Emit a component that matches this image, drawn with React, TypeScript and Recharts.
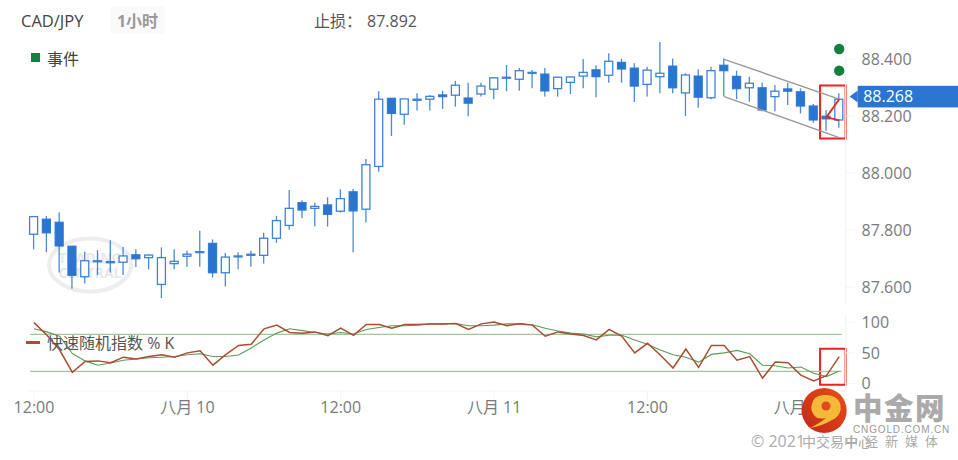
import React from "react";
import {
  ComposedChart, Bar, Line, XAxis, YAxis, ReferenceLine, ReferenceArea, ReferenceDot,
} from "recharts";

const opens = [87.785,87.838,87.827,87.743,87.636,87.689,87.685,87.687,87.713,87.703,87.609,87.682,87.708,87.722,87.753,87.650,87.706,87.711,87.711,87.771,87.816,87.896,87.876,87.888,87.866,87.934,87.873,88.023,88.262,88.206,88.255,88.259,88.274,88.273,88.263,88.277,88.294,88.333,88.329,88.350,88.347,88.296,88.318,88.340,88.362,88.343,88.388,88.368,88.311,88.338,88.375,88.281,88.340,88.264,88.378,88.339,88.299,88.299,88.268,88.295,88.285,88.235,88.199,88.186];
const closes = [87.847,87.790,87.744,87.641,87.692,87.692,87.689,87.709,87.699,87.712,87.703,87.690,87.715,87.724,87.650,87.705,87.709,87.715,87.771,87.833,87.876,87.870,87.883,87.855,87.910,87.867,88.029,88.259,88.209,88.260,88.259,88.269,88.268,88.308,88.245,88.305,88.334,88.336,88.359,88.353,88.288,88.336,88.337,88.353,88.338,88.392,88.365,88.305,88.361,88.350,88.299,88.344,88.266,88.359,88.359,88.296,88.315,88.221,88.287,88.287,88.235,88.186,88.190,88.259];
const highs = [87.847,87.849,87.862,87.743,87.724,87.729,87.764,87.740,87.732,87.714,87.739,87.732,87.727,87.797,87.767,87.719,87.722,87.727,87.790,87.849,87.940,87.904,87.896,87.915,87.943,87.944,88.049,88.287,88.262,88.260,88.280,88.273,88.289,88.323,88.317,88.317,88.336,88.379,88.368,88.361,88.368,88.336,88.337,88.400,88.378,88.420,88.401,88.385,88.373,88.460,88.402,88.350,88.364,88.373,88.402,88.359,88.338,88.317,88.309,88.317,88.297,88.242,88.221,88.280];
const lows = [87.732,87.722,87.651,87.594,87.612,87.642,87.651,87.642,87.670,87.662,87.561,87.662,87.671,87.671,87.633,87.602,87.662,87.671,87.682,87.755,87.801,87.841,87.812,87.812,87.861,87.722,87.826,88.004,88.130,88.169,88.219,88.219,88.225,88.233,88.199,88.268,88.259,88.287,88.289,88.297,88.268,88.268,88.277,88.297,88.266,88.317,88.317,88.249,88.268,88.280,88.280,88.200,88.229,88.259,88.268,88.259,88.250,88.217,88.217,88.239,88.209,88.176,88.148,88.159];
const stochK = [99,79,55,18.5,36,37,34,43,40,44,47,43,50,53.5,30,47,62,64,89,95,83,82,84,78,90,78.5,96,96,90,96,96,97,97,97.5,88,97,100,94,97,95,77,84,80.5,78,71,88,77,50,65.5,46.5,25.5,56,26.5,62,62,38,44,9,35,34,14,4.5,13,44];
const stochD = [89,84,77,49,37,30,33.5,38,40,42,43,44,47,48.5,44,44,46.5,58,71,82,89,86,83,80.5,83,80.5,88,91,94,94,94.7,97,97,97.5,94,94,95,97,97,95.5,90,85.5,82,80.5,76,78.5,78.5,71,64,54.5,47,43,35,47.5,50,54,48.5,30,29,25.5,27,17,11.5,20.5];

const priceTicks = [87.6, 87.8, 88.0, 88.2, 88.4];
const stochTicks = [0, 50, 100];
const levels = [80, 20];
const timeTickIndex = [0, 12, 24, 36, 48, 60];
const timeTickLabels = ["12:00", "八月 10", "12:00", "八月 11", "12:00", "八月 12"];
const lastPrice = 88.268;
const stopLoss = "87.892";
const eventMarks = [88.435, 88.359];
const channelUpper = [[54, 88.399], [63, 88.259]];
const channelLower = [[54, 88.268], [63, 88.124]];
const arrowUp = [[62, 88.196], [63, 88.259]];
const arrowFlat = [[62, 88.196], [63, 88.185]];
const priceBox = { x1: 61.5, x2: 63.5, y1: 88.121, y2: 88.307 };
const stochBox = { x1: 61.5, x2: 63.5, y1: -1.6, y2: 56.8 };

const candles = opens.map((o, i) => ({ i, o, c: closes[i], h: highs[i], l: lows[i], range: [lows[i], highs[i]] }));
const stoch = stochK.map((k, i) => ({ i, k, d: stochD[i] }));

const FONT = '"Open Sans","Noto Sans CJK SC",sans-serif';
const BLUE = "#2a75d0";
const AXIS = "#f1f3f6";
const W = 958;
const LEFT = 27.6;
const RIGHT_W = 112.4;

function Candle(props: any) {
  const { x, y, width, height, payload } = props;
  const { o, c, h, l } = payload;
  const k = height / (h - l);
  const top = y + (h - Math.max(o, c)) * k;
  const bot = y + (h - Math.min(o, c)) * k;
  const cx = x + width / 2;
  const up = c >= o;
  return (
    <g>
      <line x1={cx} x2={cx} y1={y} y2={y + height} stroke={BLUE} strokeWidth={1.3} strokeOpacity={0.85} />
      <rect x={x} y={top} width={width} height={Math.max(bot - top, 1)} fill={up ? "#fff" : BLUE} stroke={BLUE} strokeWidth={1.3} strokeOpacity={0.9} />
    </g>
  );
}

function PriceTag(props: any) {
  const { cx, cy } = props;
  return (
    <g>
      <polygon points={`${cx + 10.5},${cy} ${cx + 18.5},${cy - 6} ${cx + 18.5},${cy + 6}`} fill={BLUE} />
      <rect x={cx + 18.5} y={cy - 10.8} width={110} height={21.6} fill={BLUE} />
      <text x={cx + 24} y={cy + 5.6} fill="#fff" fontSize={16} fontFamily={FONT}>{lastPrice.toFixed(3)}</text>
    </g>
  );
}

const seg = (pts: number[][]) => pts.map(([x, y]) => ({ x, y }));
const tickStyle = { fontSize: 16, fill: "#7a7a7a", fontFamily: FONT };

export default function App() {
  return (
    <div style={{ position: "absolute", left: 0, top: 0, width: W, height: 460, overflow: "hidden", background: "#fff", fontFamily: FONT }}>
      {/* watermark */}
      <svg width={W} height={460} style={{ position: "absolute", left: 0, top: 0 }}>
        <ellipse cx={90} cy={265} rx={41} ry={26.5} fill="none" stroke="#ededed" strokeWidth={4} />
        <text x={90} y={263} textAnchor="middle" fontSize={14} fontWeight={700} fill="#e8e8e8" fontFamily={FONT}>TRADING</text>
        <text x={90} y={278} textAnchor="middle" fontSize={14} fontWeight={700} fill="#e8e8e8" fontFamily={FONT}>CENTRAL</text>
      </svg>

      <div style={{ position: "absolute", left: 0, top: 0 }}>
        <ComposedChart width={W} height={320} data={candles} margin={{ top: 38, right: 0, bottom: 15, left: LEFT }} barSize={8}>
          <XAxis dataKey="i" hide />
          <XAxis xAxisId="frac" dataKey="i" type="number" domain={[-0.5, 63.5]} allowDataOverflow hide />
          <YAxis
            orientation="right" width={RIGHT_W} type="number" domain={[87.5368, 88.4737]} ticks={priceTicks}
            tickFormatter={(v: number) => v.toFixed(3)} tick={tickStyle} axisLine={{ stroke: AXIS }}
            tickLine={{ stroke: AXIS }} tickSize={9} tickMargin={7} interval={0}
          />
          <Bar dataKey="range" shape={<Candle />} isAnimationActive={false} />
          <ReferenceLine xAxisId="frac" segment={seg(channelUpper)} stroke="#999" strokeWidth={1.4} ifOverflow="visible" />
          <ReferenceLine xAxisId="frac" segment={seg(channelLower)} stroke="#999" strokeWidth={1.4} ifOverflow="visible" />
          <ReferenceLine xAxisId="frac" segment={seg(arrowUp)} stroke="#ee2222" strokeWidth={1.8} ifOverflow="visible" />
          <ReferenceLine xAxisId="frac" segment={seg(arrowFlat)} stroke="#ee2222" strokeWidth={1.8} ifOverflow="visible" />
          <ReferenceArea xAxisId="frac" {...priceBox} fill="none" stroke="#ee2222" strokeWidth={2} ifOverflow="visible" />
          {eventMarks.map((p) => (
            <ReferenceDot key={p} xAxisId="frac" x={63} y={p} r={5.2} fill="#12813f" stroke="none" />
          ))}
          <ReferenceDot xAxisId="frac" x={63} y={lastPrice} r={0} shape={<PriceTag />} ifOverflow="visible" />
        </ComposedChart>
      </div>

      <div style={{ position: "absolute", left: 0, top: 305 }}>
        <ComposedChart width={W} height={155} data={stoch} margin={{ top: 10, right: 0, bottom: 39, left: LEFT }}>
          <XAxis
            dataKey="i" scale="band" ticks={timeTickIndex} interval={0} height={30}
            tickFormatter={(v: number) => timeTickLabels[timeTickIndex.indexOf(v)]}
            tick={tickStyle} axisLine={{ stroke: AXIS }} tickLine={{ stroke: AXIS }} tickSize={9} tickMargin={2}
          />
          <XAxis xAxisId="frac" dataKey="i" type="number" domain={[-0.5, 63.5]} allowDataOverflow hide />
          <YAxis
            orientation="right" width={RIGHT_W} type="number" domain={[-11.84, 111.4]} ticks={stochTicks} interval={0}
            tick={tickStyle} axisLine={{ stroke: AXIS }} tickLine={{ stroke: AXIS }} tickSize={9} tickMargin={7}
          />
          {levels.map((v) => (
            <ReferenceLine key={v} xAxisId="frac" segment={[{ x: -0.3, y: v }, { x: 63.2, y: v }]} stroke="#a3c59a" strokeWidth={1.2} ifOverflow="visible" />
          ))}
          <Line dataKey="d" stroke="#5d9c56" strokeWidth={1.1} dot={false} isAnimationActive={false} />
          <Line dataKey="k" stroke="#a94d33" strokeWidth={1.5} dot={false} isAnimationActive={false} />
          <ReferenceArea xAxisId="frac" {...stochBox} fill="none" stroke="#ee2222" strokeWidth={2} ifOverflow="visible" />
        </ComposedChart>
      </div>

      {/* header and legends */}
      <div style={{ position: "absolute", left: 21, top: 10, fontSize: 16.5, lineHeight: "22px", color: "#444" }}>CAD/JPY</div>
      <div style={{ position: "absolute", left: 110, top: 6, width: 55, height: 28, background: "#fafafa", borderRadius: 4, textAlign: "center", fontSize: 16, fontWeight: 700, lineHeight: "30px", color: "#999" }}>1小时</div>
      <div style={{ position: "absolute", left: 314, top: 10, fontSize: 16, lineHeight: "22px", color: "#555", whiteSpace: "pre" }}>止损：</div>
      <div style={{ position: "absolute", left: 367, top: 10, fontSize: 16, lineHeight: "22px", color: "#555", whiteSpace: "pre" }}>{stopLoss}</div>
      <div style={{ position: "absolute", left: 31, top: 53, width: 9, height: 9, background: "#12813f" }} />
      <div style={{ position: "absolute", left: 47, top: 48, fontSize: 16, lineHeight: "22px", color: "#444" }}>事件</div>
      <div style={{ position: "absolute", left: 26, top: 341, width: 14, height: 3, background: "#a94d33" }} />
      <div style={{ position: "absolute", left: 47, top: 332, fontSize: 16, lineHeight: "22px", color: "#555", whiteSpace: "pre" }}>快速随机指数 % K</div>

      {/* logo */}
      <svg width={W} height={460} style={{ position: "absolute", left: 0, top: 0 }}>
        <defs>
          <linearGradient id="lg" x1="1" y1="0" x2="0" y2="1">
            <stop offset="0" stopColor="#ea4d18" />
            <stop offset="1" stopColor="#c02818" />
          </linearGradient>
        </defs>
        <circle cx={824.2} cy={410.5} r={22.5} fill="url(#lg)" />
        <path d="M812 404 q1 -8 11 -9 q13 -1 17 8 q3 12 -8 17 q-10 6 -22 8 q10 -5 16 -10 q-9 2 -12 -3 q-4 -5 -2 -11z" fill="#f5b93a" />
        <circle cx={826} cy={406} r={4.5} fill="#e04a1c" />
        <text x={853} y={419} fontSize={29.5} fontWeight={900} fill="#aaaaaa" letterSpacing={1.5} fontFamily='"Noto Sans CJK SC",sans-serif'>中金网</text>
        <text x={853} y={433} fontSize={10} fill="#999" letterSpacing={0.85} fontFamily='"Liberation Sans",sans-serif'>CNGOLD.COM.CN</text>
        <text x={751} y={447} fontSize={16} fill="#aaa" fontFamily={FONT}>© 2021</text>
        <text x={802} y={447} fontSize={14} fill="#aaa" fontFamily={FONT}>中交易中心</text>
        <text x={845} y={446} fontSize={13} fill="#aaa" letterSpacing={7} fontFamily={FONT}>中经新媒体</text>
      </svg>
    </div>
  );
}
